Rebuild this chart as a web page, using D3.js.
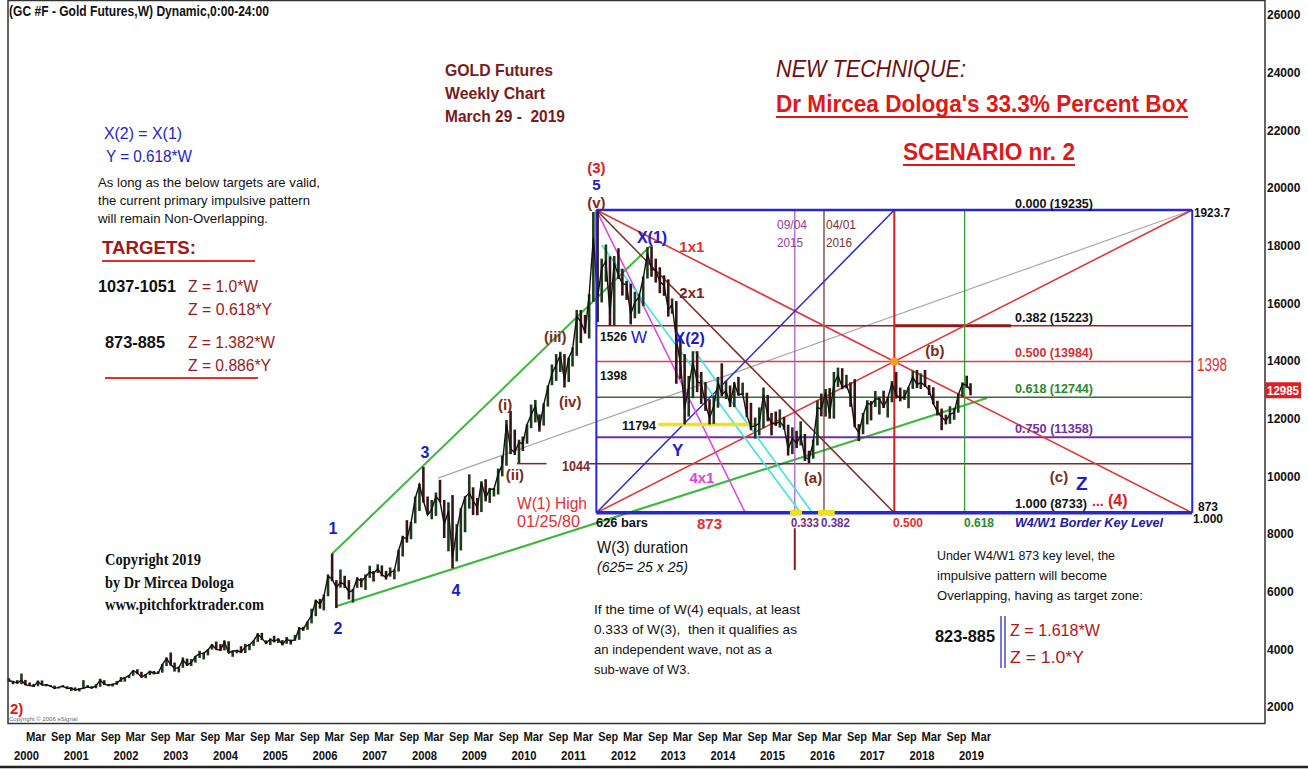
<!DOCTYPE html>
<html>
<head>
<meta charset="UTF-8">
<title>GC #F Gold Futures weekly</title>
<script src="https://d3js.org/d3.v7.min.js"></script>
<style>
  body { margin: 0; background: #fff; }
  svg { display: block; font-family: "Liberation Sans Narrow", "Arial Narrow", "Liberation Sans", Arial, sans-serif; }
  .ax text { font-weight: bold; font-size: 12px; fill: #111; }
</style>
</head>
<body>
<svg id="chart" width="1308" height="769"></svg>
<script>
// monthly ranges, Nov 1999 .. Mar 2019 (USD)
var hi = [300,291,
  293,316,294,285,280,292,292,280,276,274,269,276,
  272,268,268,265,293,276,272,279,298,293,280,280,
  290,304,304,311,327,331,322,314,326,325,324,349,
  372,389,354,340,372,368,366,377,395,390,400,418,
  427,418,431,428,396,399,411,419,418,431,456,457,
  431,438,447,438,432,443,434,450,477,478,497,541,
  572,575,590,660,732,640,677,655,640,610,650,647,
  660,690,672,695,691,672,684,677,745,794,848,842,
  930,975,1033,930,918,944,988,918,910,935,834,890,
  931,1007,962,925,983,990,960,960,1027,1071,1196,1227,
  1162,1127,1138,1180,1249,1265,1215,1253,1315,1388,1424,1432,
  1424,1412,1447,1577,1577,1560,1632,1917,1923,1755,1804,1763,
  1764,1791,1720,1678,1668,1640,1633,1693,1795,1798,1755,1725,
  1697,1683,1617,1608,1488,1424,1348,1434,1434,1362,1327,1267,
  1280,1345,1392,1331,1315,1326,1345,1325,1290,1255,1204,1239,
  1308,1282,1220,1225,1232,1206,1179,1170,1158,1191,1147,1089,
  1128,1263,1287,1303,1306,1362,1377,1375,1352,1326,1337,1181,
  1220,1264,1261,1296,1276,1297,1275,1330,1362,1308,1300,1309,
  1366,1369,1357,1369,1317,1309,1262,1235,1214,1243,1237,1287,
  1326,1349,1323];
var lo = [288,279,
  281,279,276,273,270,272,276,272,270,264,264,268,
  262,255,257,254,263,267,264,265,270,276,272,271,
  277,287,288,300,308,314,302,300,311,313,315,319,
  342,343,323,320,336,342,342,354,370,365,379,399,
  399,394,396,387,374,386,387,387,397,412,426,432,
  418,415,424,422,414,419,417,430,433,464,468,490,
  515,541,535,584,636,543,614,613,573,562,613,615,
  606,648,635,665,653,642,652,643,670,722,770,782,
  837,880,909,868,851,863,910,786,740,681,705,743,
  806,888,866,865,876,913,908,930,937,1000,1037,1077,
  1074,1045,1088,1113,1167,1187,1155,1176,1242,1316,1331,1362,
  1308,1327,1381,1418,1462,1495,1478,1605,1535,1603,1675,1523,
  1522,1685,1627,1612,1527,1548,1564,1590,1686,1692,1672,1635,
  1626,1554,1564,1321,1338,1180,1207,1271,1292,1251,1227,1180,
  1182,1238,1277,1268,1240,1240,1281,1281,1205,1160,1131,1142,
  1167,1191,1142,1175,1169,1162,1072,1077,1098,1107,1053,1046,
  1061,1107,1208,1207,1200,1200,1310,1302,1305,1241,1171,1122,
  1146,1180,1194,1241,1214,1237,1204,1257,1270,1260,1265,1236,
  1303,1306,1303,1310,1282,1250,1211,1160,1180,1182,1196,1221,
  1276,1307,1281];
var cl = [291,288,
  283,293,277,274,272,288,276,277,273,264,269,272,
  265,266,258,263,265,270,266,273,293,279,275,279,
  282,296,301,309,326,318,304,312,323,317,318,347,
  368,347,334,336,364,346,354,375,385,386,398,416,
  400,397,426,387,394,395,391,409,416,429,453,438,
  422,435,428,435,417,435,429,433,473,470,495,518,
  569,556,583,654,643,614,633,624,599,604,646,636,
  651,669,663,679,659,650,666,673,743,789,783,838,
  923,972,916,865,885,930,913,833,880,718,814,884,
  928,942,916,891,979,926,955,955,1008,1040,1182,1096,
  1083,1118,1113,1180,1213,1245,1169,1248,1308,1357,1386,1421,
  1333,1411,1439,1556,1536,1500,1628,1828,1620,1722,1746,1566,
  1740,1697,1669,1664,1562,1604,1622,1687,1773,1719,1714,1675,
  1663,1578,1596,1476,1393,1234,1312,1396,1327,1323,1250,1202,
  1244,1326,1284,1296,1250,1322,1282,1287,1211,1171,1175,1184,
  1283,1212,1183,1182,1190,1172,1095,1132,1115,1141,1065,1060,
  1116,1238,1234,1291,1215,1320,1350,1309,1316,1277,1173,1152,
  1211,1254,1249,1268,1269,1242,1270,1322,1283,1271,1275,1309,
  1345,1318,1325,1315,1299,1253,1224,1206,1192,1215,1221,1282,
  1321,1316,1298.5];

var yTicks = d3.range(2000, 26001, 2000);
var lastPrice = 12985;

// 33.3% box (chart units = price x 10)
var boxStartStr = "2011-09-06";
var boxWeeks = 625;
var boxTop = 19235, boxBot = 8733;
var priceLevels = [0.382, 0.500, 0.618, 0.750];
var timeLevels = [0.333, 0.382, 0.500, 0.618];

// free trend lines [date, value]
var greenUpper = [["2006-05-12", 7300], ["2012-10-05", 17980]];
var greenLower = [["2006-06-20", 5503], ["2019-07-15", 12716]];
var grayLine = [["2008-07-01", 9940], ["box", 19235]];
var cyanA = [["2011-10-15", 18020], ["2015-10-10", 8763]];
var cyanB = [["2013-08-28", 14340], ["2016-01-10", 8733]];
var yellow11794 = [["2012-12-04", 11794], ["2014-11-13", 11794]];
var line1044a = [["2010-02-01", 10440], ["2010-09-05", 10440]];
var line1044b = [["2011-07-15", 10440], ["box", 10440]];

// wave labels [text, date, value, colour, size]
var waveLabels = [
  ["(3)", "2011-09-06", 20693, "#d42020", 15],
  ["5", "2011-09-06", 20103, "#2020c0", 15],
  ["(v)", "2011-09-06", 19479, "#7a2a1a", 15],
  ["X(1)", "2012-10-19", 18300, "#2020c0", 16],
  ["1x1", "2013-08-07", 17953, "#e03030", 15],
  ["2x1", "2013-08-07", 16358, "#7a2020", 15],
  ["X(2)", "2013-07-22", 14797, "#2020c0", 16],
  ["Y", "2013-04-25", 10913, "#2020c0", 17],
  ["4x1", "2013-10-20", 9942, "#e040e0", 15],
  ["(a)", "2016-01-14", 9942, "#7a2a1a", 15],
  ["(b)", "2018-06-26", 14346, "#7a2a1a", 15],
  ["(c)", "2020-12-24", 9976, "#7a2a1a", 15],
  ["Z", "2021-06-10", 9768, "#2020c0", 19],
  ["1", "2006-05-21", 8208, "#2020c0", 16],
  ["2", "2006-06-27", 4740, "#2020c0", 16],
  ["3", "2008-03-27", 10843, "#2020c0", 16],
  ["4", "2008-11-10", 6058, "#2020c0", 16],
  ["(i)", "2009-11-05", 12473, "#7a2a1a", 15],
  ["(ii)", "2010-01-16", 10046, "#7a2a1a", 15],
  ["(iii)", "2010-11-08", 14831, "#7a2a1a", 15],
  ["(iv)", "2011-02-26", 12577, "#7a2a1a", 15]
];

var parse = d3.timeParse("%Y-%m-%d");
var svg = d3.select("#chart");

var x = d3.scaleTime()
  .domain([parse("2000-03-01"), parse("2019-03-01")])
  .range([23.5, 968.6]);
var y = d3.scaleLinear().domain([2000, 26000]).range([707, 15]);

var boxStart = parse(boxStartStr);
var boxEnd = d3.timeWeek.offset(boxStart, boxWeeks);
function tAt(f) { return new Date(+boxStart + f * (boxEnd - boxStart)); }
function vAt(f) { return boxTop - f * (boxTop - boxBot); }
function dt(s) { return s === "box" ? boxEnd : parse(s); }

function seg(p, color, w) {
  svg.append("line")
    .attr("x1", x(p[0][0])).attr("y1", y(p[0][1]))
    .attr("x2", x(p[1][0])).attr("y2", y(p[1][1]))
    .attr("stroke", color).attr("stroke-width", w);
}
function dseg(a, b, color, w) {
  seg([[dt(a[0]), a[1]], [dt(b[0]), b[1]]], color, w);
}
function txt(px, py, s, o) {
  o = o || {};
  var t = svg.append("text").attr("x", px).attr("y", py).text(s)
    .attr("font-size", o.size || 13)
    .attr("font-weight", o.weight || "bold")
    .attr("fill", o.color || "#111")
    .attr("text-anchor", o.anchor || "start");
  if (o.italic) t.attr("font-style", "italic");
  if (o.family) t.attr("font-family", o.family);
  if (o.w) t.attr("textLength", o.w).attr("lengthAdjust", "spacingAndGlyphs");
  return t;
}

// frame
svg.append("rect").attr("x", 8).attr("y", 0.5).attr("width", 1257).attr("height", 723)
  .attr("fill", "none").attr("stroke", "#333").attr("stroke-width", 1.5);
svg.append("line").attr("x1", 0).attr("x2", 1308).attr("y1", 767).attr("y2", 767)
  .attr("stroke", "#222").attr("stroke-width", 2.5);

// trend lines behind price
dseg(grayLine[0], grayLine[1], "#a8a8a8", 1.2);
dseg(greenUpper[0], greenUpper[1], "#3cb83c", 2);
dseg(greenLower[0], greenLower[1], "#3cb83c", 2.2);
dseg(line1044a[0], line1044a[1], "#7a2a2a", 1.5);
dseg(line1044b[0], line1044b[1], "#7a2a2a", 1.5);

// box horizontals / verticals
var hColors = ["#8b2525", "#d84040", "#3a6a3a", "#7030a0"];
priceLevels.forEach(function(f, i) {
  seg([[boxStart, vAt(f)], [boxEnd, vAt(f)]], hColors[i], i === 3 ? 2 : 1.5);
});
seg([[tAt(0.5), vAt(0.382)], [tAt(0.696), vAt(0.382)]], "#8b1a1a", 3);
var vColors = ["#b060c8", "#7a3a3a", "#d02020", "#30a030"];
timeLevels.forEach(function(f, i) {
  seg([[tAt(f), boxTop], [tAt(f), boxBot]], vColors[i], i === 2 ? 2 : 1.3);
});
seg([[tAt(0.333), 8200], [tAt(0.333), 6750]], "#8b1a1a", 2);

// fan lines
seg([[boxStart, boxTop], [boxEnd, boxBot]], "#e03838", 1.6);
seg([[boxStart, boxBot], [boxEnd, boxTop]], "#e03838", 1.6);
seg([[boxStart, boxBot], [tAt(0.5), boxTop]], "#2828d0", 1.5);
seg([[boxStart, boxTop], [tAt(0.5), boxBot]], "#7a2a2a", 1.5);
seg([[boxStart, boxTop], [tAt(0.25), boxBot]], "#e040e0", 1.5);
dseg(cyanA[0], cyanA[1], "#40e0e8", 1.6);
dseg(cyanB[0], cyanB[1], "#40e0e8", 1.6);
dseg(yellow11794[0], yellow11794[1], "#f0e020", 3.5);

// price bars (monthly high-low with close)
var bars = hi.map(function(h, i) {
  return { d: new Date(1999, 10 + i, 15), h: h * 10, l: lo[i] * 10, c: cl[i] * 10,
           o: (i ? cl[i - 1] : cl[0]) * 10 };
});
svg.append("g").selectAll("line").data(bars).join("line")
  .attr("x1", function(d) { return x(d.d); }).attr("x2", function(d) { return x(d.d); })
  .attr("y1", function(d) { return y(d.h); }).attr("y2", function(d) { return y(d.l); })
  .attr("stroke", function(d) { return d.c >= d.o ? "#1d3a1d" : "#3a1414"; })
  .attr("stroke-width", 2.6);
svg.append("path").datum(bars)
  .attr("d", d3.line().x(function(d) { return x(d.d); }).y(function(d) { return y(d.c); }))
  .attr("fill", "none").attr("stroke", "#111").attr("stroke-width", 1.4);

// box frame on top
seg([[boxStart, boxTop], [boxEnd, boxTop]], "#2828d0", 2.5);
seg([[boxStart, boxBot], [boxEnd, boxBot]], "#2828d0", 3.5);
seg([[boxStart, boxTop], [boxStart, boxBot]], "#2828d0", 2);
seg([[boxEnd, boxTop], [boxEnd, boxBot]], "#2828d0", 2);
[[0.325, 0.345], [0.372, 0.4]].forEach(function(r) {
  seg([[tAt(r[0]), boxBot], [tAt(r[1]), boxBot]], "#f0e020", 6);
});
svg.append("circle").attr("cx", x(tAt(0.5))).attr("cy", y(vAt(0.5))).attr("r", 4)
  .attr("fill", "#ff9a20");

// y axis
var yAx = svg.append("g").attr("class", "ax").attr("transform", "translate(1265,0)")
  .call(d3.axisRight(y).tickValues(yTicks).tickFormat(d3.format("d")).tickSize(0));
yAx.select(".domain").remove();
yAx.selectAll("text").attr("x", 2).attr("font-family", "Liberation Sans, Arial, sans-serif");
svg.append("rect").attr("x", 1265).attr("y", y(lastPrice) - 8).attr("width", 36).attr("height", 16)
  .attr("fill", "#e02020");
txt(1267, y(lastPrice) + 4.5, "12985", { color: "#fff", size: 12, family: "Liberation Sans, Arial, sans-serif", w: 32 });

// x axis
var marT = d3.range(2000, 2020).map(function(yr) { return new Date(yr, 2, 1); });
var sepT = d3.range(2000, 2019).map(function(yr) { return new Date(yr, 8, 1); });
var xAx = svg.append("g").attr("class", "ax").attr("transform", "translate(0,729)")
  .call(d3.axisBottom(x).tickValues(marT.concat(sepT)).tickFormat(d3.timeFormat("%b")).tickSize(0));
xAx.select(".domain").remove();
xAx.selectAll("text").attr("text-anchor", "start").attr("dx", 2).attr("font-size", 12.5)
  .attr("textLength", 20).attr("lengthAdjust", "spacingAndGlyphs");
var yrAx = svg.append("g").attr("class", "ax").attr("transform", "translate(0,748)")
  .call(d3.axisBottom(x).tickValues(marT).tickFormat(d3.timeFormat("%Y")).tickSize(0));
yrAx.select(".domain").remove();
yrAx.selectAll("text").attr("text-anchor", "start").attr("dx", -10).attr("font-size", 12.5)
  .attr("textLength", 25).attr("lengthAdjust", "spacingAndGlyphs");

// wave labels
waveLabels.forEach(function(l) {
  txt(x(parse(l[1])), y(l[2]) + l[4] * 0.35, l[0], { color: l[3], size: l[4], anchor: "middle" });
});
txt(10, 714, "2)", { color: "#d42020", size: 15 });
txt(9, 721, "Copyright \u00a9 2006 eSignal", { size: 6, weight: "normal", color: "#666" });

// box labels
txt(1015, 208, "0.000 (19235)", { size: 13, w: 78 });
txt(1194, 217, "1923.7", { size: 13, w: 36 });
txt(1015, 322, "0.382 (15223)", { size: 13, w: 78 });
txt(1015, 357, "0.500 (13984)", { size: 13, color: "#d03030", w: 78 });
txt(1015, 393, "0.618 (12744)", { size: 13, color: "#2a8a2a", w: 78 });
txt(1015, 433, "0.750 (11358)", { size: 13, color: "#7030a0", w: 78 });
txt(1015, 508, "1.000 (8733)", { size: 13, w: 72 });
txt(1092, 506, "...", { size: 14, color: "#d42020" });
txt(1108, 506, "(4)", { size: 16, color: "#d42020" });
txt(1197, 371, "1398", { size: 18, color: "#e03030", weight: "normal", w: 30 });
txt(1198, 511, "873", { size: 12 });
txt(1193, 523, "1.000", { size: 12 });
txt(596, 527, "626 bars", { size: 13, w: 52 });
txt(697, 529, "873", { size: 15, color: "#e03030" });
txt(791, 527, "0.333", { size: 13, color: "#7a2a7a", w: 28 });
txt(821, 527, "0.382", { size: 13, color: "#7030a0", w: 29 });
txt(893, 527, "0.500", { size: 13, color: "#e03030", w: 30 });
txt(964, 527, "0.618", { size: 13, color: "#2a8a2a", w: 30 });
txt(1015, 527, "W4/W1 Border Key Level", { size: 13, color: "#2020a0", italic: true, w: 148 });
txt(777, 229, "09/04", { size: 12, color: "#9040a0", weight: "normal", w: 30 });
txt(777, 247, "2015", { size: 12, color: "#9040a0", weight: "normal", w: 26 });
txt(826, 229, "04/01", { size: 12, color: "#7a3030", weight: "normal", w: 30 });
txt(826, 247, "2016", { size: 12, color: "#7a3030", weight: "normal", w: 26 });
txt(600, 341, "1526", { size: 13, w: 27 });
txt(631, 343, "W", { size: 17, color: "#2020c0", weight: "normal" });
txt(600, 380, "1398", { size: 13, w: 27 });
txt(622, 430, "11794", { size: 13, w: 34 });
txt(562, 471, "1044", { size: 14, color: "#7a2a2a", w: 28 });

// header texts
txt(9, 16, "(GC #F - Gold Futures,W) Dynamic,0:00-24:00", { size: 14, w: 260 });
txt(445, 76, "GOLD Futures", { size: 17, color: "#7a1a1a", w: 108 });
txt(445, 99, "Weekly Chart", { size: 17, color: "#7a1a1a", w: 100 });
txt(445, 122, "March 29 -\u00a0 2019", { size: 17, color: "#7a1a1a", w: 120 });
txt(776, 77, "NEW TECHNIQUE:", { size: 24, color: "#6b0f0f", italic: true, weight: "normal", w: 190 });
txt(776, 112, "Dr Mircea Dologa's 33.3% Percent Box", { size: 24, color: "#e01818", w: 412 });
svg.append("line").attr("x1", 776).attr("x2", 1188).attr("y1", 117).attr("y2", 117).attr("stroke", "#e01818").attr("stroke-width", 2);
txt(903, 160, "SCENARIO nr. 2", { size: 24, color: "#e01818", w: 172 });
svg.append("line").attr("x1", 903).attr("x2", 1075).attr("y1", 165).attr("y2", 165).attr("stroke", "#e01818").attr("stroke-width", 2);

// left notes
txt(104, 139, "X(2) = X(1)", { size: 17, color: "#2424c0", weight: "normal", w: 78 });
txt(106, 162, "Y = 0.618*W", { size: 17, color: "#2424c0", weight: "normal", w: 86 });
txt(98, 187, "As long as the below targets are valid,", { size: 13, weight: "normal", w: 222 });
txt(98, 205, "the current primary impulsive pattern", { size: 13, weight: "normal", w: 212 });
txt(98, 223, "will remain Non-Overlapping.", { size: 13, weight: "normal", w: 170 });
txt(102, 254, "TARGETS:", { size: 18, color: "#a01818", w: 94 });
svg.append("line").attr("x1", 102).attr("x2", 255).attr("y1", 261).attr("y2", 261).attr("stroke", "#e03030").attr("stroke-width", 2);
txt(98, 292, "1037-1051", { size: 17, w: 78 });
txt(188, 292, "Z = 1.0*W", { size: 17, color: "#9a1a1a", weight: "normal", w: 70 });
txt(188, 315, "Z = 0.618*Y", { size: 17, color: "#9a1a1a", weight: "normal", w: 84 });
txt(105, 348, "873-885", { size: 17, w: 60 });
txt(188, 348, "Z = 1.382*W", { size: 17, color: "#9a1a1a", weight: "normal", w: 87 });
txt(188, 371, "Z = 0.886*Y", { size: 17, color: "#9a1a1a", weight: "normal", w: 83 });
svg.append("line").attr("x1", 105).attr("x2", 258).attr("y1", 378).attr("y2", 378).attr("stroke", "#e03030").attr("stroke-width", 2);

var serif = "Liberation Serif, Times New Roman, serif";
txt(105, 565, "Copyright 2019", { size: 16, family: serif, w: 96 });
txt(105, 588, "by Dr Mircea Dologa", { size: 16, family: serif, w: 129 });
txt(105, 610, "www.pitchforktrader.com", { size: 16, family: serif, w: 159 });

txt(517, 509, "W(1) High", { size: 16, color: "#e03030", weight: "normal", w: 70 });
txt(517, 527, "01/25/80", { size: 16, color: "#e03030", weight: "normal", w: 63 });
txt(597, 553, "W(3) duration", { size: 16, weight: "normal", w: 91 });
txt(597, 572, "(625= 25 x 25)", { size: 15, weight: "normal", italic: true, w: 91 });

txt(594, 614, "If the time of W(4) equals, at least", { size: 13, weight: "normal", w: 206 });
txt(594, 634, "0.333 of W(3),\u00a0 then it qualifies as", { size: 13, weight: "normal", w: 203 });
txt(594, 654, "an independent wave, not as a", { size: 13, weight: "normal", w: 178 });
txt(594, 674, "sub-wave of W3.", { size: 13, weight: "normal", w: 96 });

txt(937, 560, "Under W4/W1 873 key level, the", { size: 13, weight: "normal", w: 178 });
txt(937, 580, "impulsive pattern will become", { size: 13, weight: "normal", w: 170 });
txt(937, 600, "Overlapping, having as target zone:", { size: 13, weight: "normal", w: 206 });
txt(935, 642, "823-885", { size: 17, w: 60 });
[1001, 1005].forEach(function(px) {
  svg.append("line").attr("x1", px).attr("x2", px).attr("y1", 616).attr("y2", 668)
    .attr("stroke", "#4a4ad0").attr("stroke-width", 1.5);
});
txt(1010, 636, "Z = 1.618*W", { size: 17, color: "#b01818", weight: "normal", w: 90 });
txt(1010, 663, "Z = 1.0*Y", { size: 17, color: "#b01818", weight: "normal", w: 74 });
</script>
</body>
</html>
